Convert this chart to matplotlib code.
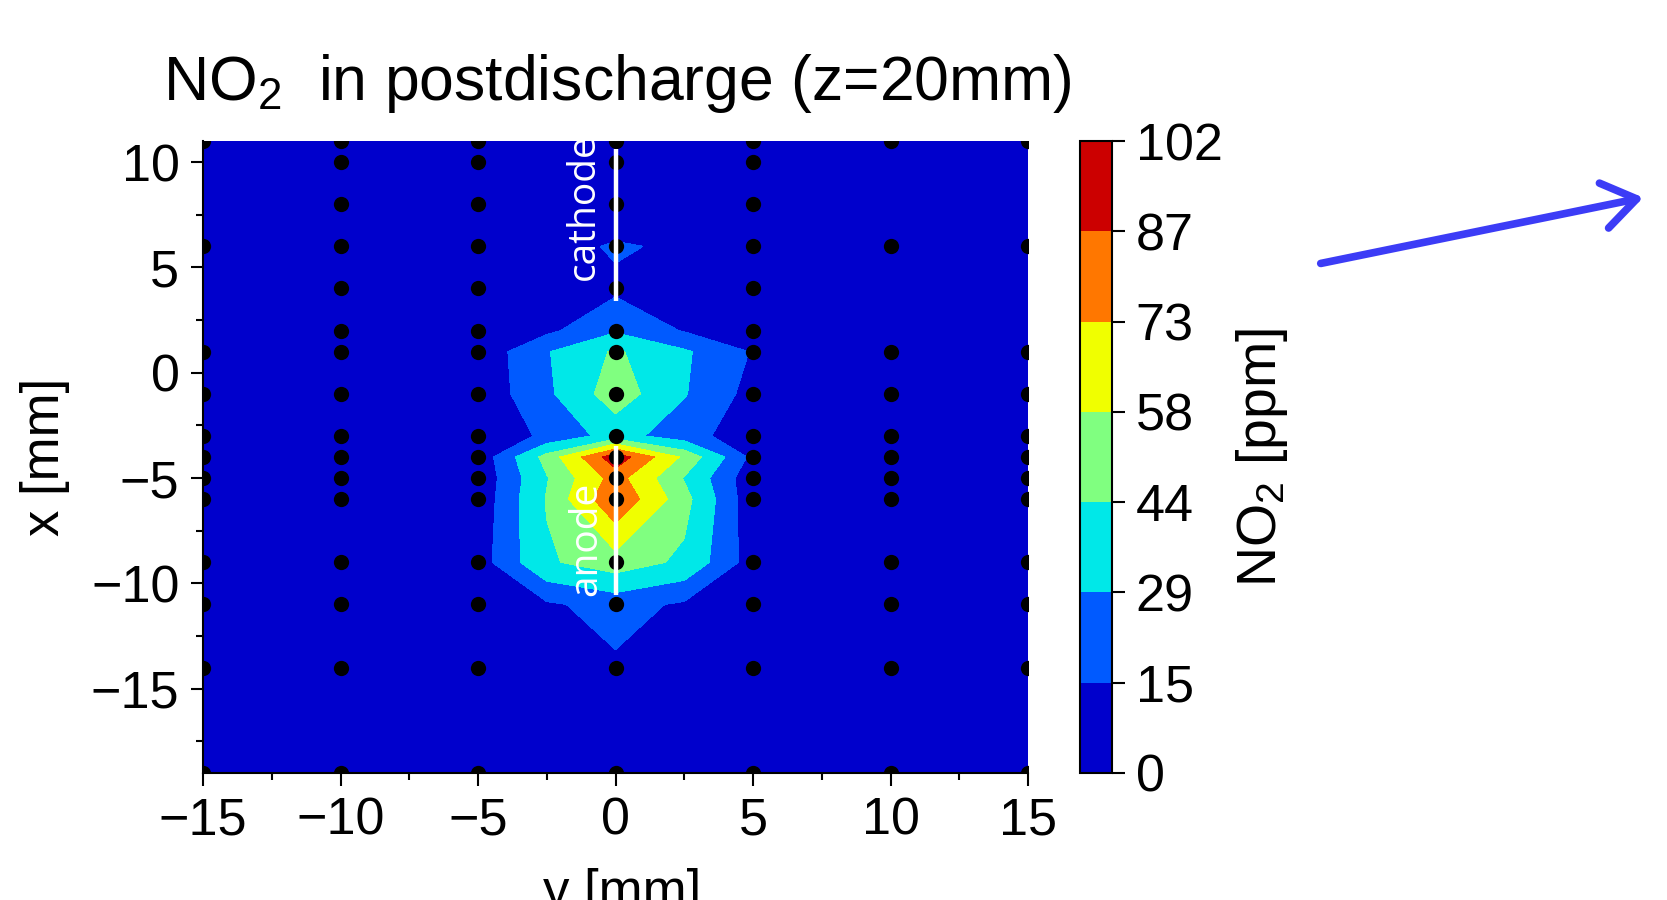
import numpy as np
import matplotlib
matplotlib.use('Agg')
import matplotlib.pyplot as plt
from matplotlib.ticker import MultipleLocator
from matplotlib.patches import FancyArrowPatch

plt.rcParams['font.family'] = ['Liberation Sans', 'DejaVu Sans']
plt.rcParams['mathtext.default'] = 'regular'

# NO2 (ppm): columns are y [mm], rows are x [mm]
y_cols = [-15, -10, -5, -2.5, 0, 2.5, 5, 10, 15]
x_rows = [11, 10, 8, 6, 4, 2, 1, -1, -3, -4, -5, -6, -9, -11, -14, -19]
no2 = [
    [0, 0, 0, 0, 0, 0, 0, 0, 0],     # 11
    [0, 0, 0, 0, 0, 0, 0, 0, 0],     # 10
    [0, 0, 0, 0, 0, 0, 0, 0, 0],     # 8
    [0, 0, 0, 8, 17, 12, 0, 0, 0],   # 6
    [0, 0, 0, 3, 12, 5, 0, 0, 0],    # 4
    [0, 0, 0, 12, 27, 14, 2, 0, 0],  # 2
    [0, 0, 5, 28, 46, 31, 14, 0, 0], # 1
    [0, 0, 5, 26, 52, 30, 10, 0, 0], # -1
    [0, 0, 3, 18, 35, 21, 6, 0, 0],  # -3
    [0, 0, 5, 49, 96, 55, 11, 0, 0], # -4
    [0, 0, 4, 43, 79, 43, 5, 0, 0],  # -5
    [0, 0, 5, 45, 86, 49, 5, 0, 0],  # -6
    [0, 0, 8, 42, 52, 41, 8, 0, 0],  # -9
    [0, 0, 3, 13, 20, 13, 3, 0, 0],  # -11
    [0, 0, 0, 5, 13, 5, 0, 0, 0],    # -14
    [0, 0, 0, 0, 0, 0, 0, 0, 0],     # -19
]
levels = [0, 15, 29, 44, 58, 73, 87, 102]
band_colors = ['#0000CC', '#005AFF', '#00E8E8', '#80FF80', '#F0FF00', '#FF7700', '#CC0000']

# measurement points
dense_cols = [-10, -5, 0, 5]
dense_rows = [11, 10, 8, 6, 4, 2, 1, -1, -3, -4, -5, -6, -9, -11, -14, -19]
sparse_cols = [-15, 10, 15]
sparse_rows = [11, 6, 1, -1, -3, -4, -5, -6, -9, -11, -14, -19]

# electrodes (x range at y=0)
cathode = [10.6, 3.4]
anode = [-3.5, -10.55]

W, H = 1667, 900
fig = plt.figure(figsize=(W / 100, H / 100), dpi=100)
ax = fig.add_axes([203 / W, 1 - 773 / H, 825 / W, 632 / H])

cs = ax.contourf(y_cols, x_rows, no2, levels=levels, colors=band_colors)

for c in dense_cols:
    ax.plot([c] * len(dense_rows), dense_rows, 'o', color='black', ms=11, mec='none', clip_on=True)
for c in sparse_cols:
    ax.plot([c] * len(sparse_rows), sparse_rows, 'o', color='black', ms=11, mec='none', clip_on=True)

ax.plot([0, 0], cathode, color='white', lw=3.2, solid_capstyle='butt')
ax.plot([0, 0], anode, color='white', lw=3.2, solid_capstyle='butt')
ax.text(-1.15, 7.9, 'cathode', rotation=90, color='white', fontsize=28,
        family='Open Sans', ha='center', va='center', clip_on=True)
ax.text(-1.05, -7.9, 'anode', rotation=90, color='white', fontsize=28,
        family='Open Sans', ha='center', va='center', clip_on=True)

ax.set_xlim(-15, 15)
ax.set_ylim(-19, 11)
ax.xaxis.set_major_locator(MultipleLocator(5))
ax.xaxis.set_minor_locator(MultipleLocator(2.5))
ax.yaxis.set_major_locator(MultipleLocator(5))
ax.yaxis.set_minor_locator(MultipleLocator(2.5))
ax.tick_params(which='major', length=9, width=1.5, pad=8, labelsize=37.5, direction='out')
ax.tick_params(which='minor', length=5, width=1.5, direction='out')
ax.tick_params(top=False, right=False, which='both')
for s in ['top', 'right']:
    ax.spines[s].set_visible(False)
for s in ['left', 'bottom']:
    ax.spines[s].set_linewidth(1.5)

cax = fig.add_axes([1080 / W, 1 - 773 / H, 32 / W, 632 / H])
cb = fig.colorbar(cs, cax=cax, ticks=levels)
cb.ax.set_yticklabels([str(v) for v in levels])
cb.ax.tick_params(length=9, width=1.5, pad=8, labelsize=37.5, direction='out')
cb.outline.set_linewidth(1.5)

fig.text(617 / W, 1 - 100 / H, r'NO$_2$  in postdischarge (z=20mm)', ha='center', va='baseline', fontsize=45)
fig.text(45 / W, 1 - 457 / H, 'x [mm]', rotation=90, ha='center', va='center', fontsize=38)
fig.text(622 / W, -0.008, 'y [mm]', ha='center', va='baseline', fontsize=38)
fig.text(1262 / W, 1 - 457 / H, r'NO$_2$ [ppm]', rotation=90, ha='center', va='center', fontsize=40)

arrow = FancyArrowPatch((1318 / W, 1 - 264 / H), (1646 / W, 1 - 197 / H), transform=fig.transFigure,
                        arrowstyle='->,head_length=0.8,head_width=0.55', mutation_scale=30,
                        lw=5.5, color='#3C3CF6', capstyle='round', joinstyle='round')
fig.add_artist(arrow)

fig.savefig('out.png', dpi=100)
